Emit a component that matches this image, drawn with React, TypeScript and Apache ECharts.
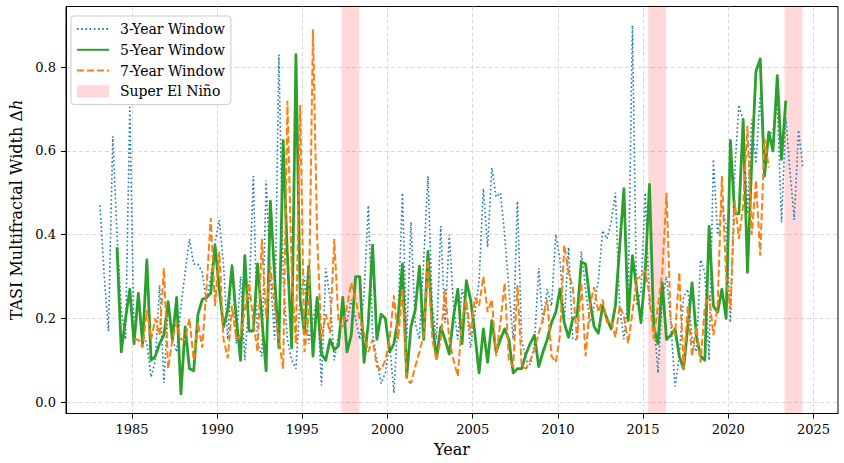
import React, { useEffect, useRef } from "react";
import * as echarts from "echarts";

// Quarterly multifractal width (Δh) of TASI for three rolling-window sizes.
// Each array holds four values per year, starting at the given mid-quarter year.
const START_3Y = 1983.125;
const WIDTH_3Y = [
  0.47, 0.30, 0.17, 0.635,
  0.40, 0.22, 0.15, 0.705,
  0.15, 0.245, 0.16, 0.14,
  0.06, 0.10, 0.28, 0.046,
  0.23, 0.15, 0.12, 0.23,
  0.31, 0.39, 0.33, 0.33,
  0.31, 0.24, 0.30, 0.38,
  0.435, 0.33, 0.15, 0.33,
  0.14, 0.30, 0.10, 0.25,
  0.54, 0.14, 0.11, 0.53,
  0.30, 0.15, 0.83, 0.30,
  0.15, 0.10, 0.08, 0.25,
  0.30, 0.14, 0.20, 0.25,
  0.04, 0.32, 0.25, 0.10,
  0.16, 0.22, 0.19, 0.245,
  0.20, 0.15, 0.26, 0.47,
  0.165, 0.10, 0.045, 0.07,
  0.14, 0.022, 0.21, 0.50,
  0.15, 0.43, 0.19, 0.15,
  0.34, 0.54, 0.23, 0.15,
  0.42, 0.19, 0.40, 0.23,
  0.15, 0.27, 0.23, 0.13,
  0.21, 0.29, 0.51, 0.37,
  0.56, 0.49, 0.50, 0.40,
  0.27, 0.15, 0.48, 0.15,
  0.10, 0.09, 0.14, 0.32,
  0.19, 0.27, 0.23, 0.40,
  0.34, 0.19, 0.37, 0.15,
  0.15, 0.36, 0.27, 0.19,
  0.23, 0.29, 0.41, 0.39,
  0.43, 0.50, 0.23, 0.15,
  0.25, 0.90, 0.23, 0.265,
  0.50, 0.23, 0.20, 0.07,
  0.245, 0.30, 0.19, 0.038,
  0.11, 0.25, 0.27, 0.15,
  0.12, 0.34, 0.31, 0.10,
  0.58, 0.40, 0.47, 0.42,
  0.19, 0.55, 0.71, 0.67,
  0.45, 0.675, 0.57, 0.735,
  0.55, 0.635, 0.65, 0.715,
  0.43, 0.68, 0.55, 0.436,
  0.65, 0.56,
];

const START_5Y = 1984.125;
const WIDTH_5Y = [
  0.37, 0.12, 0.20, 0.27,
  0.14, 0.26, 0.14, 0.34,
  0.10, 0.11, 0.14, 0.16,
  0.24, 0.15, 0.25, 0.02,
  0.18, 0.08, 0.075, 0.21,
  0.245, 0.25, 0.26, 0.375,
  0.27, 0.18, 0.22, 0.325,
  0.20, 0.10, 0.35, 0.17,
  0.17, 0.33, 0.20, 0.075,
  0.48, 0.30, 0.13, 0.625,
  0.35, 0.13, 0.83, 0.245,
  0.165, 0.325, 0.11, 0.25,
  0.115, 0.10, 0.15, 0.125,
  0.135, 0.25, 0.12, 0.16,
  0.30, 0.30, 0.095, 0.19,
  0.375, 0.15, 0.21, 0.20,
  0.12, 0.14, 0.20, 0.33,
  0.06, 0.18, 0.22, 0.325,
  0.15, 0.36, 0.19, 0.105,
  0.18, 0.15, 0.115, 0.205,
  0.27, 0.14, 0.29, 0.245,
  0.165, 0.07, 0.175, 0.095,
  0.195, 0.12, 0.15, 0.175,
  0.15, 0.07, 0.08, 0.08,
  0.115, 0.14, 0.16, 0.085,
  0.12, 0.15, 0.19, 0.215,
  0.27, 0.19, 0.155, 0.20,
  0.205, 0.335, 0.33, 0.245,
  0.18, 0.165, 0.23, 0.20,
  0.175, 0.23, 0.37, 0.51,
  0.195, 0.35, 0.27, 0.19,
  0.31, 0.52, 0.18, 0.14,
  0.285, 0.15, 0.16, 0.175,
  0.11, 0.08, 0.18, 0.285,
  0.16, 0.11, 0.10, 0.42,
  0.23, 0.215, 0.27, 0.20,
  0.625, 0.45, 0.45, 0.675,
  0.31, 0.57, 0.79, 0.82,
  0.54, 0.645, 0.60, 0.78,
  0.58, 0.72,
];

const START_7Y = 1985.125;
const WIDTH_7Y = [
  0.15, 0.15, 0.13, 0.22,
  0.15, 0.20, 0.16, 0.32,
  0.08, 0.15, 0.19, 0.15,
  0.15, 0.20, 0.10, 0.19,
  0.13, 0.27, 0.44, 0.23,
  0.36, 0.15, 0.105, 0.23,
  0.15, 0.16, 0.22, 0.285,
  0.19, 0.12, 0.39, 0.20,
  0.325, 0.23, 0.15, 0.08,
  0.72, 0.31, 0.14, 0.71,
  0.12, 0.205, 0.89, 0.39,
  0.15, 0.21, 0.165, 0.39,
  0.19, 0.18, 0.23, 0.285,
  0.245, 0.20, 0.165, 0.12,
  0.15, 0.085, 0.078, 0.10,
  0.15, 0.255, 0.15, 0.27,
  0.055, 0.045, 0.085, 0.12,
  0.16, 0.34, 0.15, 0.10,
  0.15, 0.27, 0.15, 0.10,
  0.062, 0.20, 0.245, 0.16,
  0.25, 0.23, 0.30, 0.215,
  0.245, 0.11, 0.19, 0.285,
  0.10, 0.085, 0.28, 0.085,
  0.08, 0.10, 0.125, 0.165,
  0.20, 0.245, 0.11, 0.095,
  0.16, 0.375, 0.31, 0.275,
  0.15, 0.285, 0.11, 0.23,
  0.275, 0.215, 0.245, 0.19,
  0.195, 0.155, 0.23, 0.205,
  0.14, 0.215, 0.295, 0.30,
  0.315, 0.255, 0.15, 0.23,
  0.31, 0.50, 0.19, 0.16,
  0.31, 0.08, 0.23, 0.11,
  0.18, 0.095, 0.23, 0.255,
  0.16, 0.23, 0.54, 0.30,
  0.22, 0.48, 0.39, 0.47,
  0.66, 0.40, 0.53, 0.35,
  0.63, 0.56,
];

// Super El Niño episodes (start year, end year)
const EL_NINO_START = [1997.3, 2015.3, 2023.3];
const EL_NINO_END = [1998.35, 2016.35, 2024.35];

const X_TICKS = [1985, 1990, 1995, 2000, 2005, 2010, 2015, 2020, 2025];
const Y_TICKS = [0.0, 0.2, 0.4, 0.6, 0.8];

const SERIES_NAMES = ["3-Year Window", "5-Year Window", "7-Year Window"];
const EL_NINO_NAME = "Super El Niño";

const STEP = 0.25;

function toPairs(start: number, values: number[]): [number, number][] {
  return values.map((v, i) => [start + i * STEP, v]);
}

const FONT = "DejaVu Serif";
const PINK = "rgba(255,0,0,0.15)";

export default function App() {
  const ref = useRef<HTMLDivElement | null>(null);

  useEffect(() => {
    if (!ref.current) return;
    const chart = echarts.init(ref.current, null, { renderer: "svg" });

    const gridLine = { show: true, lineStyle: { color: "#cfcfcf", width: 0.8, type: [4, 2.5] } };
    // line entries in the legend show only the stroke, no marker
    const hiddenMarker = { opacity: 0 };

    const option: any = {
      animation: false,
      backgroundColor: "#ffffff",
      textStyle: { fontFamily: FONT, color: "#000" },
      grid: {
        left: 62,
        right: 6,
        top: 6.5,
        bottom: 49.5,
        show: true,
        borderColor: "#000",
        borderWidth: 1,
        backgroundColor: "transparent",
      },
      legend: {
        orient: "vertical",
        left: 71,
        top: 16,
        backgroundColor: "rgba(255,255,255,0.8)",
        borderColor: "#cccccc",
        borderWidth: 1,
        borderRadius: 3,
        padding: [6, 6, 6, 5],
        itemWidth: 32,
        itemHeight: 12.5,
        itemGap: 6.8,
        textStyle: { fontFamily: FONT, fontSize: 14, color: "#000", padding: [0, 0, 0, 6] },
        data: [
          { name: SERIES_NAMES[0], itemStyle: hiddenMarker },
          { name: SERIES_NAMES[1], itemStyle: hiddenMarker },
          { name: SERIES_NAMES[2], itemStyle: hiddenMarker },
          { name: EL_NINO_NAME, icon: "rect", itemStyle: { color: PINK } },
        ],
      },
      xAxis: {
        type: "value",
        min: 1981.13,
        max: 2026.44,
        name: "Year",
        nameLocation: "middle",
        nameGap: 28,
        nameTextStyle: { fontFamily: FONT, fontSize: 16, color: "#000" },
        axisLine: { show: true, onZero: false, lineStyle: { color: "#000", width: 1 } },
        axisTick: { show: true, inside: false, length: 5, lineStyle: { color: "#000", width: 1 }, customValues: X_TICKS },
        axisLabel: {
          color: "#000",
          fontFamily: FONT,
          fontSize: 13,
          margin: 9,
          customValues: X_TICKS,
          formatter: (v: number) => String(Math.round(v)),
        },
        splitLine: gridLine,
      },
      yAxis: {
        type: "value",
        min: -0.027,
        max: 0.945,
        name: "TASI Multifractal Width Δ{i|h}",
        nameLocation: "middle",
        nameGap: 42,
        nameTextStyle: {
          fontFamily: FONT,
          fontSize: 16,
          color: "#000",
          rich: { i: { fontFamily: FONT, fontSize: 16, fontStyle: "italic", color: "#000" } },
        },
        axisLine: { show: true, onZero: false, lineStyle: { color: "#000", width: 1 } },
        axisTick: { show: true, inside: false, length: 5, lineStyle: { color: "#000", width: 1 }, customValues: Y_TICKS },
        axisLabel: {
          color: "#000",
          fontFamily: FONT,
          fontSize: 13,
          margin: 10,
          customValues: Y_TICKS,
          formatter: (v: number) => v.toFixed(1),
        },
        splitLine: gridLine,
      },
      series: [
        {
          name: EL_NINO_NAME,
          type: "line",
          data: [],
          symbol: "none",
          itemStyle: { color: PINK },
          lineStyle: { color: PINK },
          z: 1,
          markArea: {
            silent: true,
            itemStyle: { color: PINK },
            data: EL_NINO_START.map((s, i) => [{ xAxis: s }, { xAxis: EL_NINO_END[i] }]),
          },
        },
        {
          name: SERIES_NAMES[0],
          type: "line",
          data: toPairs(START_3Y, WIDTH_3Y),
          symbol: "none",
          z: 2,
          itemStyle: { color: "#1f77b4" },
          lineStyle: { color: "#1f77b4", width: 1.6, type: [1.6, 2.6], cap: "butt" },
        },
        {
          name: SERIES_NAMES[1],
          type: "line",
          data: toPairs(START_5Y, WIDTH_5Y),
          symbol: "none",
          z: 3,
          itemStyle: { color: "#2ca02c" },
          lineStyle: { color: "#2ca02c", width: 2.8, join: "round" },
        },
        {
          name: SERIES_NAMES[2],
          type: "line",
          data: toPairs(START_7Y, WIDTH_7Y),
          symbol: "none",
          z: 4,
          itemStyle: { color: "#ff7f0e" },
          lineStyle: { color: "#ff7f0e", width: 2, type: [7, 3], cap: "butt" },
        },
      ],
    };

    chart.setOption(option);
    return () => chart.dispose();
  }, []);

  return (
    <div
      ref={ref}
      style={{ position: "fixed", left: 0, top: 0, width: 844, height: 463, background: "#fff" }}
    />
  );
}
